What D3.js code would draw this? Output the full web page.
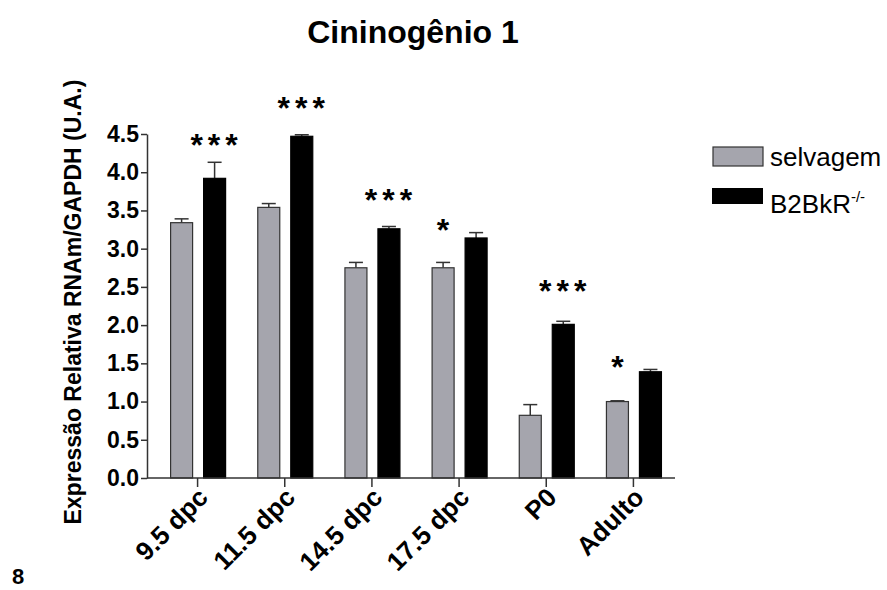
<!DOCTYPE html>
<html>
<head>
<meta charset="utf-8">
<script src="https://cdn.jsdelivr.net/npm/d3@7"></script>
<style>
	body { margin: 0; background: #fff; }
	text { font-family: "Liberation Sans", Arial, sans-serif; }
</style>
</head>
<body>
<svg id="chart" width="887" height="590"></svg>
<script>
// categories and series
var categories = ["9.5 dpc", "11.5 dpc", "14.5 dpc", "17.5 dpc", "P0", "Adulto"];
var seriesNames = ["selvagem", "B2BkR"];
// means
var selvagem = [3.34, 3.54, 2.75, 2.75, 0.82, 1.00];
var b2bkr = [3.92, 4.47, 3.26, 3.14, 2.01, 1.39];
// top of error bars
var selvagemErr = [3.39, 3.59, 2.82, 2.82, 0.96, 1.01];
var b2bkrErr = [4.13, 4.49, 3.29, 3.21, 2.05, 1.42];
// significance marks: label, which bar, height of the mark (bottom)
var starLabels = ["***", "***", "***", "*", "***", "*"];
var starSeries = ["B2BkR", "B2BkR", "B2BkR", "selvagem", "B2BkR", "selvagem"];
var starHeights = [4.38, 4.87, 3.66, 3.27, 2.47, 1.48];
var yTicks = [0, 0.5, 1, 1.5, 2, 2.5, 3, 3.5, 4, 4.5];

var svg = d3.select("#chart");
var grayFill = "#a5a5ad";

var x = d3.scaleBand()
	.domain(categories)
	.range([154, 677])
	.paddingInner(0);
var xSub = d3.scaleBand()
	.domain(seriesNames)
	.range([16.6, 71.6])
	.paddingInner(1/3);
var y = d3.scaleLinear()
	.domain([0, 4.5])
	.range([478, 134]);

var fills = { "selvagem": grayFill, "B2BkR": "#000" };
var strokes = { "selvagem": "#333", "B2BkR": "#000" };

//Flatten into rows for bars
var rows = [];
categories.forEach(function(c, i) {
	rows.push({ cat: c, s: "selvagem", v: selvagem[i], e: selvagemErr[i] });
	rows.push({ cat: c, s: "B2BkR", v: b2bkr[i], e: b2bkrErr[i] });
});

//Error bars (upper only)
var errG = svg.append("g");
rows.forEach(function(d) {
	var cx = x(d.cat) + xSub(d.s) + xSub.bandwidth()/2;
	errG.append("line")
		.attr("x1", cx).attr("x2", cx)
		.attr("y1", y(d.v)).attr("y2", y(d.e))
		.style("stroke", "#333").style("stroke-width", "1.5");
	errG.append("line")
		.attr("x1", cx - 7).attr("x2", cx + 7)
		.attr("y1", y(d.e)).attr("y2", y(d.e))
		.style("stroke", "#333").style("stroke-width", "1.5");
});

//Bars
svg.append("g").selectAll("rect")
	.data(rows)
	.enter().append("rect")
	.attr("x", function(d) { return x(d.cat) + xSub(d.s); })
	.attr("y", function(d) { return y(d.v); })
	.attr("width", xSub.bandwidth())
	.attr("height", function(d) { return y(0) - y(d.v); })
	.style("fill", function(d) { return fills[d.s]; })
	.style("stroke", function(d) { return strokes[d.s]; })
	.style("stroke-width", "1.2");

//Y axis
var yAxis = d3.axisLeft(y)
	.tickValues(yTicks)
	.tickFormat(d3.format(".1f"))
	.tickSize(6)
	.tickPadding(2)
	.tickSizeOuter(0);
var yG = svg.append("g")
	.attr("transform", "translate(147,0)")
	.call(yAxis);
yG.select(".domain").style("stroke", "#333").style("stroke-width", "1.5");
yG.selectAll(".tick line").style("stroke", "#333").style("stroke-width", "1.5");
yG.selectAll(".tick text")
	.style("font-size", "23px")
	.style("font-weight", "bold")
	.style("fill", "#000");

//X axis
var xAxis = d3.axisBottom(x)
	.tickSize(9)
	.tickSizeOuter(0)
	.tickFormat("");
var xG = svg.append("g")
	.attr("transform", "translate(0," + y(0) + ")")
	.call(xAxis);
xG.select(".domain").attr("d", "M147,0H675").style("stroke", "#333").style("stroke-width", "1.5");
xG.selectAll(".tick line").style("stroke", "#333").style("stroke-width", "1.5");

//Rotated category labels
svg.append("g").selectAll("text")
	.data(categories)
	.enter().append("text")
	.attr("transform", function(d) {
		return "translate(" + (x(d) + x.bandwidth()/2 + 12) + ",499) rotate(-45)";
	})
	.attr("text-anchor", "end")
	.style("font-size", "26px")
	.style("font-weight", "bold")
	.text(function(d) { return d; });

//Significance stars
svg.append("g").selectAll("text")
	.data(categories)
	.enter().append("text")
	.attr("x", function(d, i) { return x(d) + xSub(starSeries[i]) + xSub.bandwidth()/2 + (starLabels[i].length > 1 ? 2 : 0); })
	.attr("y", function(d, i) { return y(starHeights[i]) + 13; })
	.attr("text-anchor", "middle")
	.style("font-size", "32px")
	.style("font-weight", "bold")
	.style("letter-spacing", function(d, i) { return starLabels[i].length > 1 ? "5px" : "0px"; })
	.text(function(d, i) { return starLabels[i]; });

//Title
svg.append("text")
	.attr("x", 413)
	.attr("y", 43)
	.attr("text-anchor", "middle")
	.style("font-size", "32px")
	.style("font-weight", "bold")
	.text("Cininogênio 1");

//Y label
svg.append("text")
	.attr("transform", "translate(81,302) rotate(-90)")
	.attr("text-anchor", "middle")
	.style("font-size", "23px")
	.style("font-weight", "bold")
	.text("Expressão Relativa RNAm/GAPDH (U.A.)");

//Legend
var legend = svg.append("g");
legend.append("rect")
	.attr("x", 713).attr("y", 147).attr("width", 50).attr("height", 19)
	.style("fill", grayFill).style("stroke", "#333").style("stroke-width", "1.2");
legend.append("rect")
	.attr("x", 712).attr("y", 188).attr("width", 51).attr("height", 16)
	.style("fill", "#000");
legend.append("text")
	.attr("x", 770).attr("y", 166)
	.style("font-size", "26px")
	.text("selvagem");
var lt = legend.append("text")
	.attr("x", 770).attr("y", 213)
	.style("font-size", "26px");
lt.append("tspan").text("B2BkR");
lt.append("tspan")
	.attr("dy", "-11")
	.style("font-size", "15px")
	.text("-/-");

//Panel number
svg.append("text")
	.attr("x", 12).attr("y", 584)
	.style("font-size", "22px")
	.style("font-weight", "bold")
	.text("8");
</script>
</body>
</html>
